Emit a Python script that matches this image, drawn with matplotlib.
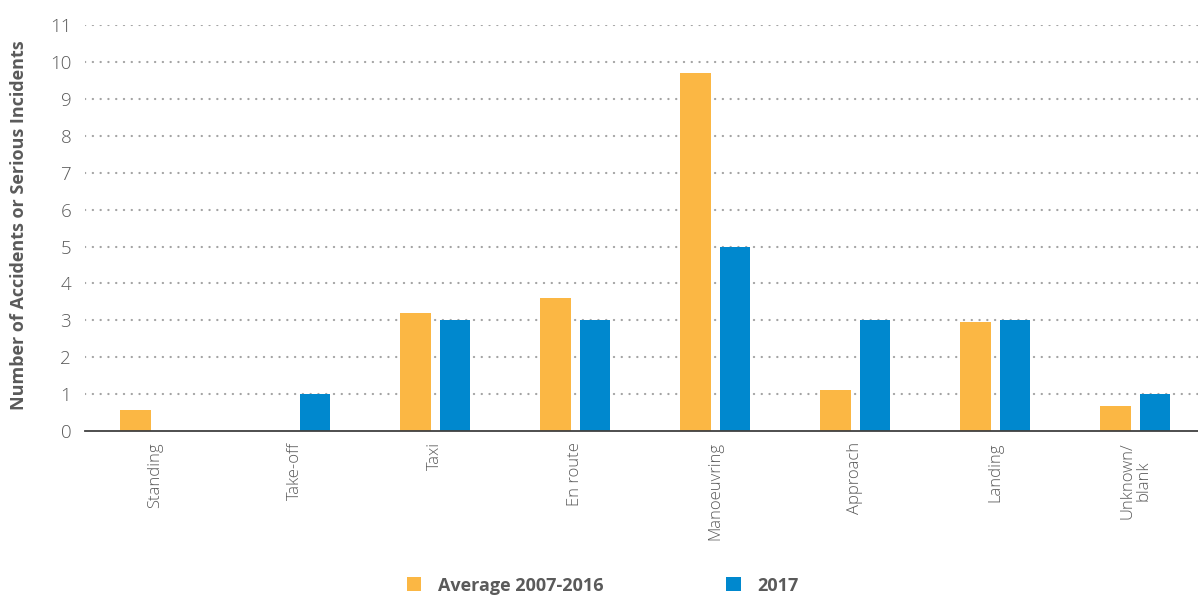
import matplotlib
matplotlib.use("Agg")
import matplotlib.pyplot as plt
from matplotlib.patches import Patch
import numpy as np

categories = ["Standing", "Take-off", "Taxi", "En route", "Manoeuvring",
              "Approach", "Landing", "Unknown/\nblank"]
avg_2007_2016 = [0.57, 0.0, 3.2, 3.6, 9.7, 1.1, 2.95, 0.68]
year_2017 = [0, 1, 3, 3, 5, 3, 3, 1]
series_labels = ["Average 2007-2016", "2017"]
y_ticks = list(range(0, 12))

ORANGE = "#FBB744"
BLUE = "#0088CE"
GREY_TEXT = "#5A5A5A"

plt.rcParams["font.family"] = ["Open Sans", "DejaVu Sans"]

fig = plt.figure(figsize=(11.98, 5.99), dpi=100)
ax = fig.add_axes([0.071, 0.2805, 0.935, 0.6775])

x = np.arange(len(categories))
w = 0.22
off = 0.142
ax.bar(x - off, avg_2007_2016, width=w, color=ORANGE, zorder=3)
ax.bar(x + off, year_2017, width=w, color=BLUE, zorder=3)

ax.set_xlim(-0.5, len(categories) - 0.5)
ax.set_ylim(0, 11)
ax.set_yticks(y_ticks)
ax.set_yticklabels([str(t) for t in y_ticks], fontsize=13.5, color=GREY_TEXT,
                   fontweight="light")
ax.set_xticks(x)
ax.set_xticklabels(categories, rotation=90, fontsize=12, color=GREY_TEXT,
                   fontweight="light", linespacing=1.0)
ax.tick_params(axis="both", length=0)
ax.tick_params(axis="y", pad=10)
ax.tick_params(axis="x", pad=8)

for t in y_ticks[1:]:
    ax.axhline(t, color="#A3A3A3", linewidth=1.6, linestyle=(0, (0.1, 3.4)),
               dash_capstyle="round", zorder=1)

for s in ["top", "right", "left"]:
    ax.spines[s].set_visible(False)
ax.spines["bottom"].set_color("#404040")
ax.spines["bottom"].set_linewidth(1.3)
ax.spines["bottom"].set_zorder(4)

fig.text(0.016, 0.624, "Number of Accidents or Serious Incidents", rotation=90,
         ha="center", va="center", fontsize=13, fontweight="bold",
         color=GREY_TEXT)

handles = [Patch(facecolor=ORANGE, edgecolor="none"),
           Patch(facecolor=BLUE, edgecolor="none")]
leg = fig.legend(handles, series_labels, loc="center", ncol=2,
                 bbox_to_anchor=(0.503, 0.0225), frameon=False,
                 handlelength=0.8, handleheight=0.8, handletextpad=0.9,
                 columnspacing=6.8,
                 prop={"size": 13, "weight": "bold", "family": ["Open Sans", "DejaVu Sans"]})
for t in leg.get_texts():
    t.set_color(GREY_TEXT)

fig.savefig("out.png", dpi=100)
